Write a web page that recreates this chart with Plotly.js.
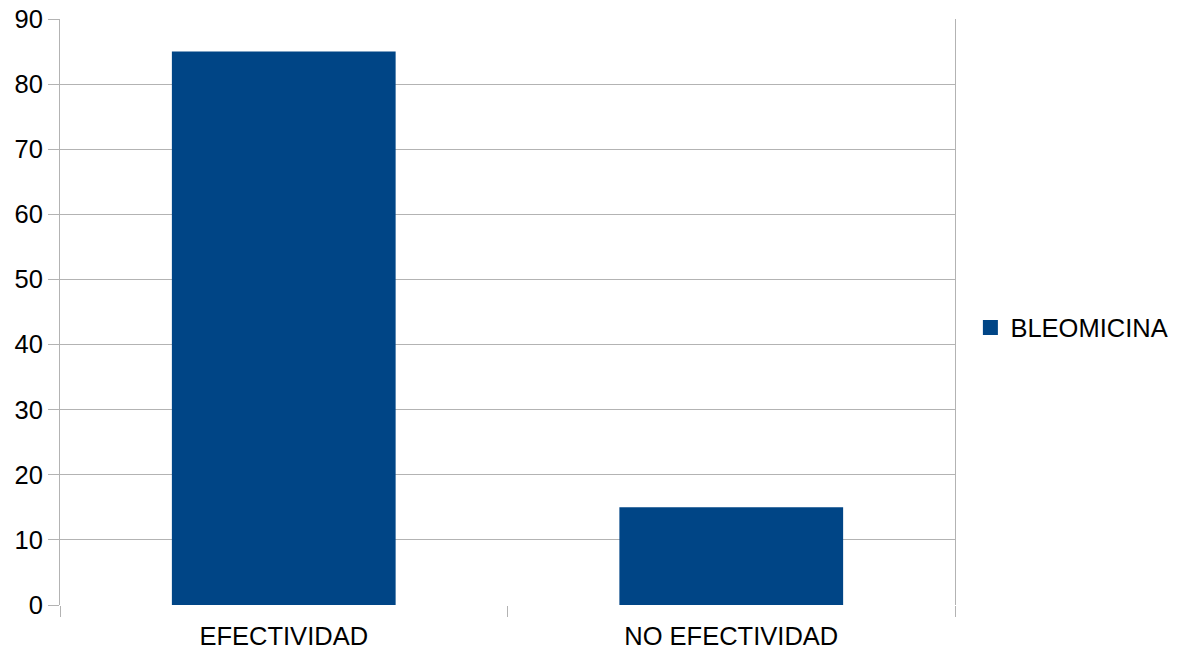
<!DOCTYPE html>
<html>
<head>
<meta charset="utf-8">
<script src="https://cdn.plot.ly/plotly-3.0.1.min.js"></script>
<style>
  html, body { margin: 0; padding: 0; background: #ffffff; }
  #chart { width: 1186px; height: 655px; }
</style>
</head>
<body>
<div id="chart"></div>
<script>
// Treatment outcome categories and their percentages
const categories = ["EFECTIVIDAD", "NO EFECTIVIDAD"];
const seriesName = "BLEOMICINA";
const values = [85, 15];
const yTicks = [0, 10, 20, 30, 40, 50, 60, 70, 80, 90];

const barColor = "#004586";
const gridColor = "#b3b3b3";
const fontFamily = "'Liberation Sans', Arial, sans-serif";
const fontSize = 25.5;

const traces = [
  {
    type: "bar",
    x: categories,
    y: values,
    name: seriesName,
    width: 0.5,
    marker: { color: barColor, line: { width: 0 } },
    showlegend: false,
    hoverinfo: "x+y"
  },
  {
    // legend entry with a larger square swatch
    type: "scatter",
    mode: "markers",
    x: [null],
    y: [null],
    name: seriesName,
    marker: { symbol: "square", size: 15, color: barColor },
    showlegend: true,
    hoverinfo: "skip"
  }
];

const layout = {
  width: 1186,
  height: 655,
  margin: { l: 60, r: 231, t: 19, b: 50, pad: 0, autoexpand: false },
  paper_bgcolor: "#ffffff",
  plot_bgcolor: "#ffffff",
  font: { family: fontFamily, size: fontSize, color: "#000000" },
  bargap: 0.5,
  xaxis: {
    type: "category",
    categoryorder: "array",
    categoryarray: categories,
    tickson: "boundaries",
    ticks: "outside",
    ticklen: 11,
    tickwidth: 1,
    tickcolor: gridColor,
    ticklabelstandoff: 13,
    showgrid: false,
    showline: false,
    zeroline: false,
    tickfont: { family: fontFamily, size: fontSize, color: "#000000" },
    fixedrange: true
  },
  yaxis: {
    range: [0, 90],
    tickmode: "array",
    tickvals: yTicks,
    ticktext: yTicks.map(String),
    ticks: "outside",
    ticklen: 11,
    tickwidth: 1,
    tickcolor: gridColor,
    showgrid: true,
    gridcolor: gridColor,
    gridwidth: 1,
    showline: true,
    linecolor: gridColor,
    linewidth: 1,
    mirror: true,
    zeroline: false,
    tickfont: { family: fontFamily, size: fontSize, color: "#000000" },
    fixedrange: true
  },
  showlegend: true,
  legend: {
    x: 1.0172,
    xanchor: "left",
    y: 0.473,
    yanchor: "middle",
    bgcolor: "rgba(0,0,0,0)",
    borderwidth: 0,
    font: { family: fontFamily, size: fontSize, color: "#000000" },
    itemwidth: 30
  }
};

Plotly.newPlot("chart", traces, layout, { displayModeBar: false, staticPlot: true });
</script>
</body>
</html>
